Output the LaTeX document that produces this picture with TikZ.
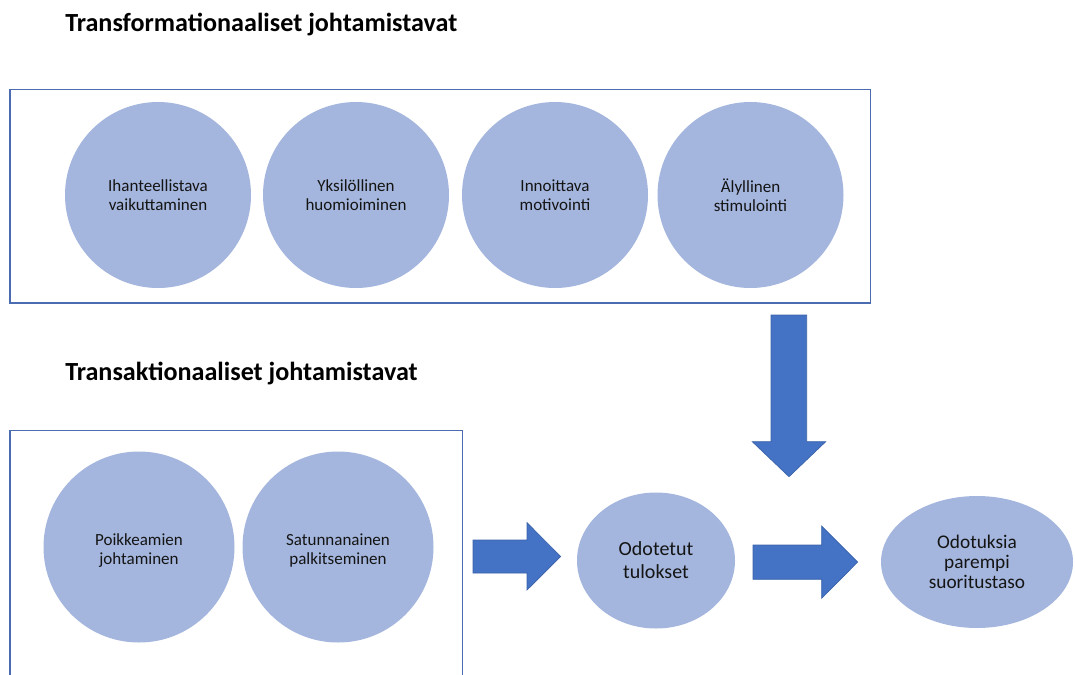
\documentclass[tikz,border=0pt]{standalone}
\usepackage{fontspec}
\setmainfont{Carlito}
\usetikzlibrary{shapes.geometric}
\definecolor{circfill}{HTML}{A4B6DD}
\definecolor{arrowfill}{HTML}{4472C4}
\definecolor{arrowline}{HTML}{3A62A8}
\definecolor{boxline}{HTML}{4B6CB0}
\definecolor{txt}{HTML}{141414}
\tikzset{
  frame/.style={draw=boxline, line width=1pt},
  bubble/.style={ellipse, fill=circfill, draw=none, inner sep=0pt, align=center, text=txt},
  smallbub/.style={bubble, minimum width=139.5pt, minimum height=139.5pt, font=\fontsize{12.75pt}{14.25pt}\selectfont},
  bigbub/.style={bubble, minimum width=143.25pt, minimum height=143.25pt},
  bubtext/.style={align=center, text=txt, inner sep=0pt, font=\fontsize{12.75pt}{14.25pt}\selectfont},
  title/.style={anchor=base west, inner sep=0pt, text=black, font=\fontsize{19.6pt}{23pt}\selectfont\bfseries},
  blockarrow/.style={fill=arrowfill, draw=arrowline, line width=0.5pt, line join=miter}
}
\begin{document}
\begin{tikzpicture}[x=0.75pt, y=-0.75pt]
\useasboundingbox (0,0) rectangle (1075,675);
\clip (0,0) rectangle (1075,675);
\fill[white] (0,0) rectangle (1075,675);

% titles
\node[title] (t1) at (65,31.7) {Transformationaaliset johtamistavat};
\node[title] (t2) at (65,380) {Transaktionaaliset johtamistavat};

% frames
\draw[frame] (10,89.3) rectangle (870.7,303);
\draw[frame] (10,430.7) rectangle (462.7,700);

% top circles
\node[smallbub] (c1) at (158,195) {Ihanteellistava\\vaikuttaminen};
\node[smallbub] (c2) at (356,195) {Yksilöllinen\\huomioiminen};
\node[smallbub] (c3) at (555,195) {Innoittava\\motivointi};
\node[smallbub] (c4) at (750.5,195) {Älyllinen\\stimulointi};

% bottom circles
\node[bigbub] (c5) at (139,547) {};
\node[bubtext] (c5t) at (139,551) {Poikkeamien\\johtaminen};
\node[bigbub] (c6) at (338,547) {};
\node[bubtext] (c6t) at (338,551) {Satunnanainen\\palkitseminen};

% outcomes
\node[bubble, minimum width=118.5pt, minimum height=102pt, font=\fontsize{15pt}{17.25pt}\selectfont] (o1) at (656,560.5) {Odotetut\\tulokset};
\node[bubble, minimum width=144pt, minimum height=99pt, font=\fontsize{14.5pt}{15pt}\selectfont] (o2) at (977,562) {Odotuksia\\parempi\\suoritustaso};

% block arrows
\coordinate (a1tip) at (560.7,556.5);
\draw[blockarrow] (473,540) -- (527,540) -- (527,522.7) -- (a1tip) -- (527,590) -- (527,573) -- (473,573) -- cycle;
\coordinate (a2tip) at (857.7,562);
\draw[blockarrow] (753,545) -- (821.7,545) -- (821.7,526) -- (a2tip) -- (821.7,598.3) -- (821.7,579.3) -- (753,579.3) -- cycle;
\coordinate (a3tip) at (789,476.7);
\draw[blockarrow] (771,315) -- (806.7,315) -- (806.7,441.7) -- (825.7,441.7) -- (a3tip) -- (752.3,441.7) -- (771,441.7) -- cycle;
\end{tikzpicture}
\end{document}
